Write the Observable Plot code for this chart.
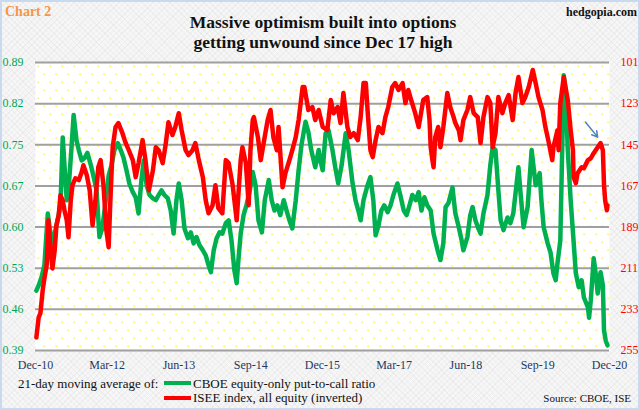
<!DOCTYPE html>
<html><head><meta charset="utf-8">
<script src="https://cdn.jsdelivr.net/npm/d3@7"></script>
<script src="https://cdn.jsdelivr.net/npm/@observablehq/plot@0.6"></script>
<style>
body{margin:0;}
#wrap{position:relative;width:640px;height:410px;overflow:hidden;font-family:"Liberation Serif","Times New Roman",serif;
 background-color:#f6f6f6;
 background-image:repeating-linear-gradient(45deg,rgba(0,0,0,0.03) 0 1px,transparent 1px 4px),repeating-linear-gradient(-45deg,rgba(0,0,0,0.03) 0 1px,transparent 1px 4px);}
#chart{position:absolute;left:0;top:0;}
.t{position:absolute;white-space:nowrap;line-height:1;}
#border{position:absolute;left:0;top:0;right:0;bottom:0;border:2px solid #c9d9ee;box-sizing:border-box;pointer-events:none;}
.sw{position:absolute;width:27px;height:4px;}
</style></head><body>
<div id="wrap">
  <div id="chart"></div>
  <div class="t" id="tag" style="left:5px;top:5px;font-size:14px;font-weight:bold;color:#f79646;">Chart 2</div>
  <div class="t" id="site" style="right:3px;top:6px;font-size:12px;font-weight:bold;color:#111;">hedgopia.com</div>
  <div class="t" id="title" style="left:0;width:646px;top:13px;text-align:center;font-size:17.5px;line-height:19.5px;font-weight:bold;color:#111;"></div>
  <div class="t" id="legLabel" style="left:18px;top:377px;font-size:13px;color:#111;"></div>
  <div class="sw" id="sw1" style="left:164px;top:381px;"></div>
  <div class="t" id="leg1" style="left:193px;top:377px;font-size:13px;color:#111;"></div>
  <div class="sw" id="sw2" style="left:164px;top:396px;"></div>
  <div class="t" id="leg2" style="left:193px;top:391px;font-size:13px;color:#111;"></div>
  <div class="t" id="source" style="right:9px;top:393px;font-size:11px;color:#111;"></div>
  <div id="border"></div>
</div>
<script>
// ---- data ----
const titleLines = ["Massive optimism built into options", "getting unwound since Dec 17 high"];
const legendLabel = "21-day moving average of:";
const seriesNames = ["CBOE equity-only put-to-call ratio", "ISEE index, all equity (inverted)"];
const seriesColors = ["#00b050", "#ff0000"];
const sourceText = "Source: CBOE, ISE";

const leftTickLabels = ["0.39","0.46","0.53","0.60","0.67","0.75","0.82","0.89"];
const rightTickLabels = ["255","233","211","189","167","145","123","101"];
const leftDomain = [0.39, 0.89];
const rightDomain = [255, 101];
const xTickDates = ["2010-12-01","2012-03-01","2013-06-01","2014-09-01","2015-12-01","2017-03-01","2018-06-01","2019-09-01","2020-12-01"];
const xTickLabels = ["Dec-10","Mar-12","Jun-13","Sep-14","Dec-15","Mar-17","Jun-18","Sep-19","Dec-20"];

// [decimal year, put-to-call ratio]
const greenSeries = [[2010.93,0.494],[2010.97,0.503],[2011.02,0.517],[2011.07,0.538],[2011.13,0.628],[2011.16,0.604],[2011.21,0.576],[2011.25,0.593],[2011.30,0.616],[2011.35,0.642],[2011.39,0.760],[2011.42,0.712],[2011.46,0.651],[2011.49,0.668],[2011.54,0.738],[2011.58,0.799],[2011.63,0.755],[2011.67,0.738],[2011.72,0.720],[2011.77,0.724],[2011.82,0.733],[2011.88,0.712],[2011.93,0.691],[2011.98,0.668],[2012.03,0.587],[2012.08,0.602],[2012.14,0.651],[2012.19,0.694],[2012.24,0.712],[2012.29,0.738],[2012.35,0.750],[2012.40,0.738],[2012.45,0.724],[2012.50,0.703],[2012.55,0.680],[2012.61,0.665],[2012.66,0.656],[2012.71,0.628],[2012.76,0.686],[2012.80,0.720],[2012.85,0.677],[2012.90,0.660],[2012.96,0.654],[2013.01,0.651],[2013.06,0.660],[2013.11,0.668],[2013.16,0.660],[2013.22,0.654],[2013.27,0.633],[2013.32,0.593],[2013.37,0.651],[2013.41,0.680],[2013.46,0.651],[2013.51,0.602],[2013.57,0.585],[2013.62,0.595],[2013.67,0.576],[2013.72,0.587],[2013.77,0.573],[2013.83,0.564],[2013.88,0.555],[2013.93,0.538],[2013.97,0.526],[2014.02,0.564],[2014.07,0.585],[2014.12,0.595],[2014.17,0.593],[2014.23,0.611],[2014.28,0.616],[2014.33,0.581],[2014.38,0.529],[2014.42,0.507],[2014.45,0.547],[2014.49,0.593],[2014.54,0.625],[2014.59,0.642],[2014.65,0.668],[2014.70,0.700],[2014.75,0.677],[2014.80,0.616],[2014.86,0.595],[2014.91,0.651],[2014.98,0.686],[2015.03,0.651],[2015.08,0.633],[2015.13,0.642],[2015.18,0.625],[2015.24,0.651],[2015.29,0.633],[2015.34,0.616],[2015.39,0.602],[2015.45,0.651],[2015.50,0.703],[2015.55,0.747],[2015.62,0.787],[2015.67,0.769],[2015.72,0.738],[2015.79,0.708],[2015.85,0.738],[2015.88,0.720],[2015.92,0.703],[2015.97,0.767],[2016.02,0.773],[2016.09,0.738],[2016.14,0.707],[2016.19,0.680],[2016.25,0.712],[2016.32,0.767],[2016.37,0.738],[2016.44,0.680],[2016.49,0.651],[2016.54,0.633],[2016.58,0.616],[2016.63,0.651],[2016.70,0.677],[2016.75,0.691],[2016.80,0.651],[2016.84,0.590],[2016.89,0.607],[2016.94,0.633],[2016.99,0.642],[2017.05,0.630],[2017.10,0.642],[2017.15,0.660],[2017.22,0.680],[2017.27,0.660],[2017.33,0.633],[2017.38,0.625],[2017.43,0.642],[2017.48,0.660],[2017.54,0.651],[2017.59,0.665],[2017.64,0.633],[2017.69,0.656],[2017.74,0.642],[2017.80,0.633],[2017.85,0.593],[2017.92,0.564],[2017.97,0.547],[2018.02,0.576],[2018.06,0.639],[2018.11,0.646],[2018.18,0.673],[2018.23,0.628],[2018.29,0.604],[2018.34,0.581],[2018.37,0.564],[2018.44,0.587],[2018.49,0.625],[2018.53,0.639],[2018.58,0.616],[2018.63,0.602],[2018.67,0.593],[2018.72,0.628],[2018.79,0.660],[2018.84,0.712],[2018.88,0.743],[2018.93,0.738],[2018.98,0.668],[2019.02,0.616],[2019.07,0.599],[2019.14,0.621],[2019.19,0.611],[2019.24,0.628],[2019.33,0.708],[2019.37,0.660],[2019.42,0.604],[2019.49,0.639],[2019.56,0.738],[2019.63,0.677],[2019.70,0.698],[2019.73,0.651],[2019.77,0.604],[2019.84,0.576],[2019.89,0.560],[2019.94,0.524],[2019.98,0.512],[2020.01,0.541],[2020.06,0.581],[2020.10,0.773],[2020.12,0.868],[2020.15,0.842],[2020.19,0.738],[2020.24,0.651],[2020.29,0.581],[2020.33,0.524],[2020.38,0.500],[2020.43,0.512],[2020.47,0.482],[2020.54,0.465],[2020.56,0.447],[2020.59,0.477],[2020.64,0.550],[2020.68,0.520],[2020.71,0.489],[2020.76,0.526],[2020.80,0.503],[2020.82,0.425],[2020.85,0.407],[2020.88,0.399]];

// [decimal year, ISEE index]
const redSeries = [[2010.93,248.0],[2010.97,237.3],[2011.00,235.2],[2011.04,222.9],[2011.07,216.4],[2011.11,209.5],[2011.13,196.1],[2011.14,185.4],[2011.18,201.4],[2011.21,211.1],[2011.25,201.4],[2011.28,188.0],[2011.32,182.7],[2011.35,172.0],[2011.39,174.7],[2011.42,180.0],[2011.46,185.4],[2011.49,194.5],[2011.53,174.7],[2011.56,166.6],[2011.61,162.9],[2011.67,163.9],[2011.72,159.7],[2011.75,155.9],[2011.81,161.3],[2011.86,169.3],[2011.91,188.0],[2011.96,174.7],[2012.01,157.0],[2012.05,153.2],[2012.10,166.6],[2012.15,190.7],[2012.19,199.8],[2012.22,174.7],[2012.26,146.3],[2012.31,135.5],[2012.36,133.4],[2012.43,138.8],[2012.48,143.6],[2012.54,147.9],[2012.61,153.2],[2012.66,162.3],[2012.71,154.8],[2012.78,142.5],[2012.83,153.2],[2012.89,169.3],[2012.96,158.6],[2013.01,146.3],[2013.06,147.9],[2013.13,154.8],[2013.18,145.2],[2013.23,132.9],[2013.30,139.8],[2013.35,135.5],[2013.41,128.1],[2013.46,137.2],[2013.53,147.9],[2013.58,150.5],[2013.65,147.9],[2013.70,144.1],[2013.76,153.2],[2013.83,162.3],[2013.88,174.7],[2013.93,181.6],[2014.00,177.3],[2014.05,166.6],[2014.10,178.9],[2014.17,181.6],[2014.23,153.2],[2014.28,154.8],[2014.35,166.6],[2014.42,185.4],[2014.49,153.2],[2014.52,146.3],[2014.58,154.8],[2014.63,177.3],[2014.66,147.9],[2014.70,131.8],[2014.72,130.2],[2014.79,140.9],[2014.84,153.2],[2014.89,144.1],[2014.96,131.8],[2015.01,126.4],[2015.06,140.9],[2015.12,147.9],[2015.15,135.5],[2015.22,167.7],[2015.27,160.2],[2015.34,153.2],[2015.39,147.9],[2015.45,140.9],[2015.50,131.8],[2015.57,114.1],[2015.60,114.1],[2015.64,121.1],[2015.67,126.4],[2015.74,124.8],[2015.79,131.8],[2015.85,126.4],[2015.92,135.5],[2016.00,137.2],[2016.06,121.1],[2016.11,128.1],[2016.18,124.8],[2016.23,133.4],[2016.28,117.3],[2016.35,135.5],[2016.40,140.9],[2016.46,138.8],[2016.53,142.5],[2016.58,130.2],[2016.63,112.0],[2016.67,112.0],[2016.70,126.4],[2016.75,147.9],[2016.79,151.6],[2016.84,142.5],[2016.89,135.5],[2016.96,138.8],[2017.01,130.2],[2017.06,124.8],[2017.13,114.1],[2017.18,112.0],[2017.24,115.7],[2017.31,112.0],[2017.36,122.7],[2017.41,115.7],[2017.46,121.1],[2017.53,128.1],[2017.59,135.5],[2017.62,130.2],[2017.67,121.1],[2017.74,119.5],[2017.78,131.8],[2017.80,146.3],[2017.83,153.2],[2017.85,157.0],[2017.88,140.9],[2017.93,135.5],[2017.97,146.3],[2018.02,135.5],[2018.09,117.3],[2018.14,124.8],[2018.20,130.2],[2018.23,133.4],[2018.29,137.2],[2018.32,142.5],[2018.37,131.8],[2018.44,126.4],[2018.49,119.5],[2018.55,128.1],[2018.62,130.2],[2018.67,144.1],[2018.72,130.2],[2018.79,119.5],[2018.84,122.7],[2018.88,146.3],[2018.93,138.8],[2018.98,119.5],[2019.05,128.1],[2019.10,122.7],[2019.16,118.4],[2019.23,131.8],[2019.28,117.3],[2019.33,108.8],[2019.40,122.7],[2019.45,119.5],[2019.51,114.1],[2019.58,105.0],[2019.63,112.0],[2019.68,119.5],[2019.75,126.4],[2019.80,135.5],[2019.85,142.5],[2019.92,153.2],[2019.94,146.3],[2020.01,137.2],[2020.03,147.9],[2020.06,122.7],[2020.12,108.8],[2020.19,121.1],[2020.24,137.2],[2020.28,147.9],[2020.29,162.3],[2020.33,165.5],[2020.36,160.2],[2020.43,157.0],[2020.47,157.5],[2020.54,153.2],[2020.59,152.2],[2020.64,149.5],[2020.71,146.3],[2020.76,144.1],[2020.80,147.9],[2020.82,166.6],[2020.84,174.7],[2020.87,180.0],[2020.88,177.3]];

// arrow annotation (decimal year, ISEE units)
const arrowNote = [{t1: 2020.50, v1: 132.9, t2: 2020.71, v2: 140.9}];

// ---- helpers ----
const FONT = '"Liberation Serif","Times New Roman",serif';
function toDate(t) {
  const y = Math.floor(t);
  const a = Date.UTC(y, 0, 1), b = Date.UTC(y + 1, 0, 1);
  return new Date(a + (t - y) * (b - a));
}
function toLeft(r) {
  return leftDomain[0] + (rightDomain[0] - r) / (rightDomain[0] - rightDomain[1]) * (leftDomain[1] - leftDomain[0]);
}
const leftTicks = leftTickLabels.map((_, i) => leftDomain[0] + i * (leftDomain[1] - leftDomain[0]) / (leftTickLabels.length - 1));
const tickIndex = d => leftTicks.findIndex(v => Math.abs(v - d) < 1e-9);
const xTicks = xTickDates.map(s => new Date(s + "T00:00:00Z"));
const xLabelMap = new Map(xTicks.map((d, i) => [+d, xTickLabels[i]]));

const green = greenSeries.map(([t, v]) => ({date: toDate(t), v}));
const red = redSeries.map(([t, v]) => ({date: toDate(t), y: toLeft(v)}));

const svg = Plot.plot({
  width: 640, height: 410,
  marginLeft: 35, marginRight: 31, marginTop: 62, marginBottom: 60,
  style: {background: "transparent", fontFamily: FONT, overflow: "visible"},
  x: {type: "utc", domain: [xTicks[0], xTicks[xTicks.length - 1]], label: null},
  y: {domain: leftDomain, label: null},
  marks: [
    Plot.frame({fill: "url(#dotpat)", stroke: "none"}),
    Plot.ruleY(leftTicks, {stroke: "#a0a0a0", strokeWidth: 2}),
    Plot.line(green, {x: "date", y: "v", stroke: seriesColors[0], strokeWidth: 4.5, strokeLinejoin: "round", strokeLinecap: "round"}),
    Plot.line(red, {x: "date", y: "y", stroke: seriesColors[1], strokeWidth: 4.5, strokeLinejoin: "round", strokeLinecap: "round"}),
    Plot.arrow(arrowNote, {x1: d => toDate(d.t1), y1: d => toLeft(d.v1), x2: d => toDate(d.t2), y2: d => toLeft(d.v2), stroke: "#4f81bd", strokeWidth: 1.5, headLength: 7}),
    Plot.axisY({anchor: "left", ticks: leftTicks, tickFormat: d => leftTickLabels[tickIndex(d)], tickSize: 0, tickPadding: 12, fontSize: 12, color: "#00a651", label: null}),
    Plot.axisY({anchor: "right", ticks: leftTicks, tickFormat: d => rightTickLabels[tickIndex(d)], tickSize: 0, tickPadding: 11, fontSize: 12, color: "#ff0000", label: null}),
    Plot.axisX({ticks: xTicks, tickFormat: d => xLabelMap.get(+d), tickSize: 0, tickPadding: 10, fontSize: 12, color: "#1f3864", label: null})
  ]
});

// dotted plot-area pattern
const defs = d3.select(svg).insert("defs", ":first-child");
const pat = defs.append("pattern").attr("id", "dotpat").attr("patternUnits", "userSpaceOnUse")
  .attr("x", 35).attr("y", 62).attr("width", 12).attr("height", 16);
pat.append("rect").attr("width", 12).attr("height", 16).attr("fill", "#ffffff");
pat.append("rect").attr("x", 2).attr("y", 3).attr("width", 1.4).attr("height", 1.4).attr("fill", "#ffee00");
pat.append("rect").attr("x", 8).attr("y", 11).attr("width", 1.4).attr("height", 1.4).attr("fill", "#ffee00");

document.getElementById("chart").appendChild(svg);

// texts
document.getElementById("title").innerHTML = titleLines.join("<br>");
document.getElementById("legLabel").textContent = legendLabel;
document.getElementById("leg1").textContent = seriesNames[0];
document.getElementById("leg2").textContent = seriesNames[1];
document.getElementById("sw1").style.background = seriesColors[0];
document.getElementById("sw2").style.background = seriesColors[1];
document.getElementById("source").textContent = sourceText;
</script>
</body></html>
